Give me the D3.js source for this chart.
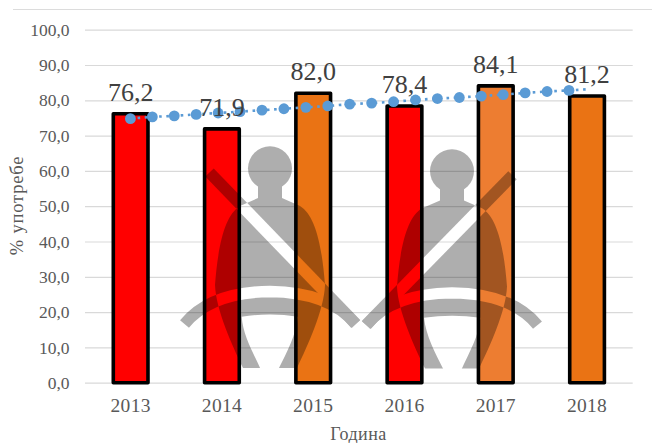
<!DOCTYPE html>
<html><head><meta charset="utf-8">
<script src="https://cdn.jsdelivr.net/npm/d3@7"></script>
<style>html,body{margin:0;padding:0;background:#fff}svg{display:block}text{font-family:"Liberation Serif",serif}</style>
</head><body><svg id="c" width="652" height="443"></svg>
<script>
const years=["2013","2014","2015","2016","2017","2018"];
const values=[76.2,71.9,82.0,78.4,84.1,81.2];
const barColors=["#ff0000","#ff0000","#ea7314","#ff0000","#ed7d31","#ea7314"];
const trendValues=[74.8,75.3,75.6,76.0,76.4,76.8,77.2,77.6,78.0,78.4,78.9,79.2,79.6,80.1,80.5,80.8,81.2,81.6,82.1,82.5,82.8];
const trendEnd=[20.8,83.1];
const yTicks=[0,10,20,30,40,50,60,70,80,90,100];
const yLabel="% употребе", xLabel="Година";

const svg=d3.select("#c");
const fmt=v=>v.toFixed(1).replace(".",",");
const x=d3.scaleBand().domain(years).range([85,632.7]).paddingInner(0.62).paddingOuter(0.31);
const y=d3.scaleLinear().domain([0,100]).range([382.7,29.7]);
const xTrend=d3.scaleLinear().domain([0,20]).range([130.4,569]);

svg.append("line").attr("x1",13).attr("x2",652).attr("y1",9.5).attr("y2",9.5).attr("stroke","#dcdcdc").attr("stroke-width",1.2);

const yAxis=d3.axisLeft(y).tickValues(yTicks).tickSize(-(632.7-85)).tickPadding(15.5).tickFormat(fmt);
const gy=svg.append("g").attr("transform","translate(85,0)").call(yAxis);
gy.select(".domain").remove();
gy.selectAll("line").attr("stroke","#d9d9d9").attr("stroke-width",1.2);
gy.selectAll("text").attr("fill","#595959").style("font-size","17.5px");

const xAxis=d3.axisBottom(x).tickSize(0).tickPadding(15);
const gx=svg.append("g").attr("transform","translate(0,382.7)").call(xAxis);
gx.select(".domain").remove();
gx.selectAll("text").attr("fill","#595959").style("font-size","19.5px").style("letter-spacing","0.3px");

svg.append("g").selectAll("rect").data(years).join("rect")
 .attr("x",d=>x(d)).attr("width",x.bandwidth())
 .attr("y",(d,i)=>y(values[i])).attr("height",(d,i)=>y(0)-y(values[i]))
 .attr("fill",(d,i)=>barColors[i]).attr("stroke","#000").attr("stroke-width",3.6).attr("stroke-linejoin","round");

// seat-belt pictogram
const defs=svg.append("defs");
const bodyD="M258,185 L258,198 L240,206 C225,215 218,245 215,285 C216,310 232,345 243,368 L297,368 C308,345 324,310 325,285 C322,245 315,215 300,206 L282,198 L282,185 Z";
const strapD="M209.5,172.5 L356,324";
const lapD="M184.5,324 C200,305 225,292 270,291.5 C315,292 340,305 355.5,324";
const archD="M241.7,316.7 Q270,312.5 298,316.7 C296,335 287,352 278,370 L261,370 C252,350 243,335 241.7,316.7 Z";
const m1=defs.append("mask").attr("id","inBody").attr("maskUnits","userSpaceOnUse").attr("x",0).attr("y",0).attr("width",800).attr("height",443);
m1.append("rect").attr("width",800).attr("height",443).attr("fill","#fff");
m1.append("path").attr("d",strapD).attr("stroke","#000").attr("stroke-width",11.8).attr("fill","none");
m1.append("path").attr("d",lapD).attr("stroke","#000").attr("stroke-width",11.5).attr("fill","none");
m1.append("path").attr("d",archD).attr("fill","#000");
const m2=defs.append("mask").attr("id","outBody").attr("maskUnits","userSpaceOnUse").attr("x",0).attr("y",0).attr("width",800).attr("height",443);
m2.append("rect").attr("width",800).attr("height",443).attr("fill","#fff");
m2.append("path").attr("d",bodyD).attr("fill","#000");
const sym=defs.append("g").attr("id","belt");
sym.append("circle").attr("cx",270).attr("cy",168.3).attr("r",22);
sym.append("path").attr("d",bodyD).attr("mask","url(#inBody)");
const outer=sym.append("g").attr("mask","url(#outBody)").attr("fill","none").attr("stroke","#000");
outer.append("path").attr("d",strapD).attr("stroke-width",11.8);
outer.append("path").attr("d",lapD).attr("stroke-width",11.5);
svg.append("use").attr("href","#belt").attr("opacity",0.315);
svg.append("use").attr("href","#belt").attr("opacity",0.315).attr("transform","translate(722,4.6) scale(-1,0.989)");

// trend
const line=d3.line().x(d=>xTrend(d[0])).y(d=>y(d[1]));
const trendPts=trendValues.map((v,i)=>[i,v]);
svg.append("path").attr("d",line([...trendPts,trendEnd])).attr("fill","none").attr("stroke","#5b9bd5").attr("stroke-width",2.6).attr("stroke-dasharray","2.6 4.6");
svg.append("g").selectAll("circle").data(trendPts).join("circle")
 .attr("cx",d=>xTrend(d[0])).attr("cy",d=>y(d[1])).attr("r",5.4).attr("fill","#5b9bd5");

// labels
svg.append("g").selectAll("text").data(years).join("text")
 .attr("x",d=>x(d)+x.bandwidth()/2).attr("y",(d,i)=>y(values[i])-13)
 .attr("text-anchor","middle").attr("fill","#404040").style("font-size","26px")
 .text((d,i)=>fmt(values[i]));

svg.append("text").attr("x",358.5).attr("y",440).attr("text-anchor","middle").attr("fill","#595959").style("font-size","18px").style("letter-spacing","0.5px").text(xLabel);
svg.append("text").attr("transform","translate(23,205.5) rotate(-90)").attr("text-anchor","middle").attr("fill","#595959").style("font-size","18.5px").style("letter-spacing","0.8px").text(yLabel);
</script></body></html>
